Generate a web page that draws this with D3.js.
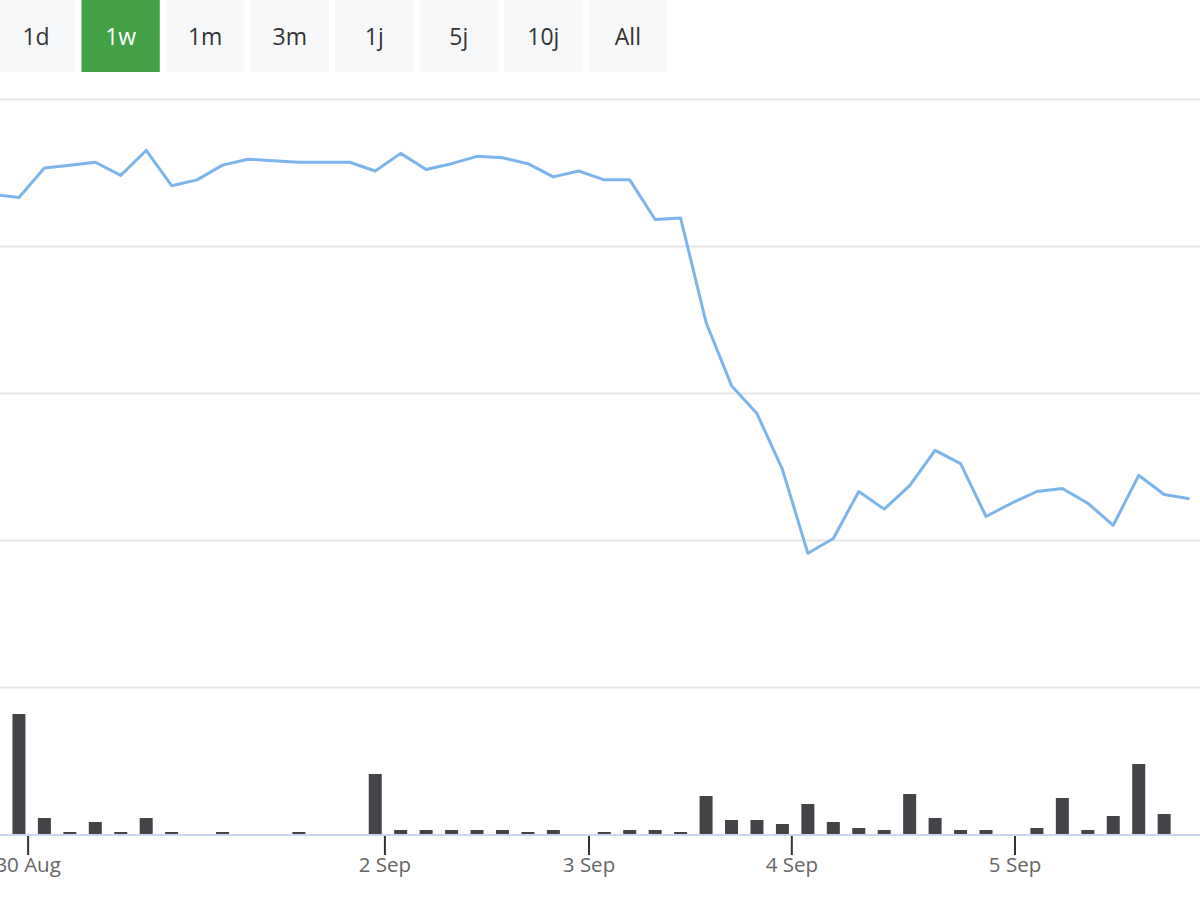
<!DOCTYPE html>
<html>
<head>
<meta charset="utf-8">
<script src="https://cdn.jsdelivr.net/npm/d3@7"></script>
<style>
  body { margin: 0; background: #fff; font-family: "Open Sans", "DejaVu Sans", sans-serif; }
</style>
</head>
<body>
<div id="chart"></div>
<script>
const buttons = ["1d", "1w", "1m", "3m", "1j", "5j", "10j", "All"]
const selected = "1w"

const prices = [3.35, 3.33, 3.53, 3.55, 3.57, 3.48, 3.65, 3.41, 3.45, 3.55,
  3.59, 3.58, 3.57, 3.57, 3.57, 3.51, 3.63, 3.52, 3.56, 3.61,
  3.60, 3.56, 3.47, 3.51, 3.45, 3.45, 3.18, 3.19, 2.48, 2.05,
  1.86, 1.48, 0.91, 1.01, 1.33, 1.21, 1.37, 1.61, 1.52, 1.16,
  1.25, 1.33, 1.35, 1.25, 1.10, 1.44, 1.31, 1.28]

const volumes = [4, 120, 16, 2, 12, 2, 16, 2, 0, 2,
  0, 0, 2, 0, 0, 60, 4, 4, 4, 4,
  4, 2, 4, 0, 2, 4, 4, 2, 38, 14,
  14, 10, 30, 12, 6, 4, 40, 16, 4, 4,
  0, 6, 36, 4, 18, 70, 20, 0]

const tickLabels = ["30 Aug", "2 Sep", "3 Sep", "4 Sep", "5 Sep"]
const tickIndex = [1.36, 15.38, 23.4, 31.37, 40.14]
const gridValues = [0, 1, 2, 3, 4]

const W = 1200, H = 900
const svg = d3.select("#chart").append("svg")
  .attr("width", W).attr("height", H)

// buttons
const bx = d3.scaleBand().domain(buttons).range([-3, 667]).paddingInner(0.075)
const bg = svg.append("g").selectAll("g").data(buttons).enter().append("g")
  .attr("transform", d => `translate(${bx(d)},0)`)
bg.append("rect")
  .attr("width", bx.bandwidth()).attr("height", 72)
  .attr("fill", d => d === selected ? "#43a047" : "#f7f8fa")
bg.append("text")
  .attr("x", bx.bandwidth() / 2).attr("y", 36)
  .attr("text-anchor", "middle").attr("dominant-baseline", "central")
  .attr("font-size", 23)
  .attr("fill", d => d === selected ? "#fff" : "#333")
  .text(d => d)

const x = d3.scaleLinear().domain([0, prices.length - 1]).range([-6.5, 1189.6])
const y = d3.scaleLinear().domain([0, 4]).range([687, 99])
const yv = d3.scaleLinear().domain([0, 140]).range([834, 694])

// gridlines
svg.append("g").selectAll("line").data(gridValues).enter().append("line")
  .attr("x1", 0).attr("x2", W)
  .attr("y1", d => y(d) + 0.5).attr("y2", d => y(d) + 0.5)
  .attr("stroke", "#e6e6e6").attr("stroke-width", 2)

// volume bars
svg.append("g").selectAll("rect").data(volumes).enter().append("rect")
  .attr("x", (d, i) => x(i) - 6.5)
  .attr("width", 13)
  .attr("y", d => yv(d))
  .attr("height", d => yv(0) - yv(d))
  .attr("fill", "#434348")

// price line
svg.append("path")
  .datum(prices)
  .attr("fill", "none")
  .attr("stroke", "#7cb5ec")
  .attr("stroke-width", 3)
  .attr("stroke-linejoin", "round")
  .attr("d", d3.line().x((d, i) => x(i)).y(d => y(d)))

// x axis
svg.append("line")
  .attr("x1", 0).attr("x2", W).attr("y1", 835).attr("y2", 835)
  .attr("stroke", "#ccd6eb").attr("stroke-width", 2)
const ticks = svg.append("g").selectAll("g").data(tickIndex).enter().append("g")
  .attr("transform", d => `translate(${x(d)},0)`)
ticks.append("line").attr("y1", 836).attr("y2", 855)
  .attr("stroke", "#333").attr("stroke-width", 2)
ticks.append("text")
  .attr("y", 864).attr("text-anchor", "middle").attr("dominant-baseline", "central")
  .attr("font-size", 20.5).attr("fill", "#666")
  .text((d, i) => tickLabels[i])
</script>
</body>
</html>
